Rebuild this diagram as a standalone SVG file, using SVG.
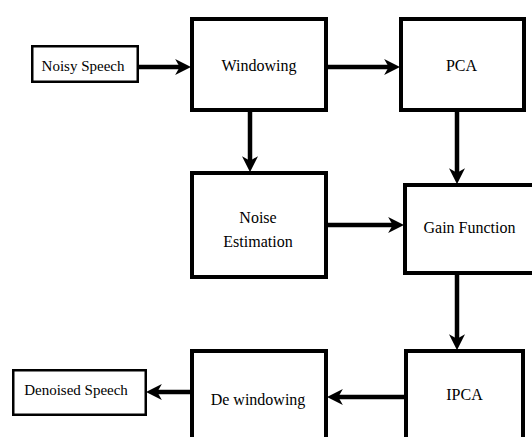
<svg xmlns="http://www.w3.org/2000/svg" width="532" height="437" viewBox="0 0 532 437">
<style>
.thick{fill:#fff;stroke:#000;stroke-width:4}
.thin{fill:#fff;stroke:#000;stroke-width:2.5}
text{font-family:'Liberation Serif','DejaVu Serif',serif;font-size:16px;fill:#000;text-anchor:middle}
text.sm{font-size:15px}
.con{stroke:#000;stroke-width:4.5;fill:none;marker-end:url(#ah)}
</style>
<defs>
<marker id="ah" markerUnits="userSpaceOnUse" markerWidth="16" markerHeight="16" viewBox="0 0 14 14" refX="6" refY="7" orient="auto">
<path d="M0,0 L14,7 L0,14 L4,7 z" fill="#000"/>
</marker>
</defs>
<g id="connectors">
<line class="con" x1="139" y1="67" x2="182" y2="67"/>
<line class="con" x1="328" y1="67" x2="391" y2="67"/>
<line class="con" x1="250" y1="112" x2="250" y2="163"/>
<line class="con" x1="457" y1="112" x2="457" y2="175"/>
<line class="con" x1="328" y1="225" x2="395" y2="225"/>
<line class="con" x1="457" y1="275" x2="457" y2="341"/>
<line class="con" x1="404" y1="397" x2="336" y2="397"/>
<line class="con" x1="190" y1="392" x2="155" y2="392"/>
</g>
<g id="noisy-speech">
<rect class="thin" x="32.25" y="46.25" width="105.5" height="35.5"/>
<text class="sm" x="83" y="71" font-family="Liberation Serif, serif">Noisy Speech</text>
</g>
<g id="windowing">
<rect class="thick" x="192" y="19" width="134" height="91"/>
<text x="259" y="71" font-family="Liberation Serif, serif">Windowing</text>
</g>
<g id="pca">
<rect class="thick" x="401" y="19" width="123" height="91"/>
<text x="461.5" y="71" font-family="Liberation Serif, serif">PCA</text>
</g>
<g id="noise-estimation">
<rect class="thick" x="192" y="173" width="134" height="104"/>
<text x="258" y="223" font-family="Liberation Serif, serif">Noise</text>
<text x="258" y="247" font-family="Liberation Serif, serif">Estimation</text>
</g>
<g id="gain-function">
<rect class="thick" x="405" y="185" width="140" height="88"/>
<text x="469.5" y="233" font-family="Liberation Serif, serif">Gain Function</text>
</g>
<g id="ipca">
<rect class="thick" x="406" y="351" width="117" height="100"/>
<text x="464.5" y="400" font-family="Liberation Serif, serif">IPCA</text>
</g>
<g id="de-windowing">
<rect class="thick" x="192" y="351" width="134" height="100"/>
<text x="258" y="405" font-family="Liberation Serif, serif">De windowing</text>
</g>
<g id="denoised-speech">
<rect class="thin" x="13.25" y="370.25" width="132.5" height="44.5"/>
<text class="sm" x="76" y="395" font-family="Liberation Serif, serif">Denoised Speech</text>
</g>
</svg>
